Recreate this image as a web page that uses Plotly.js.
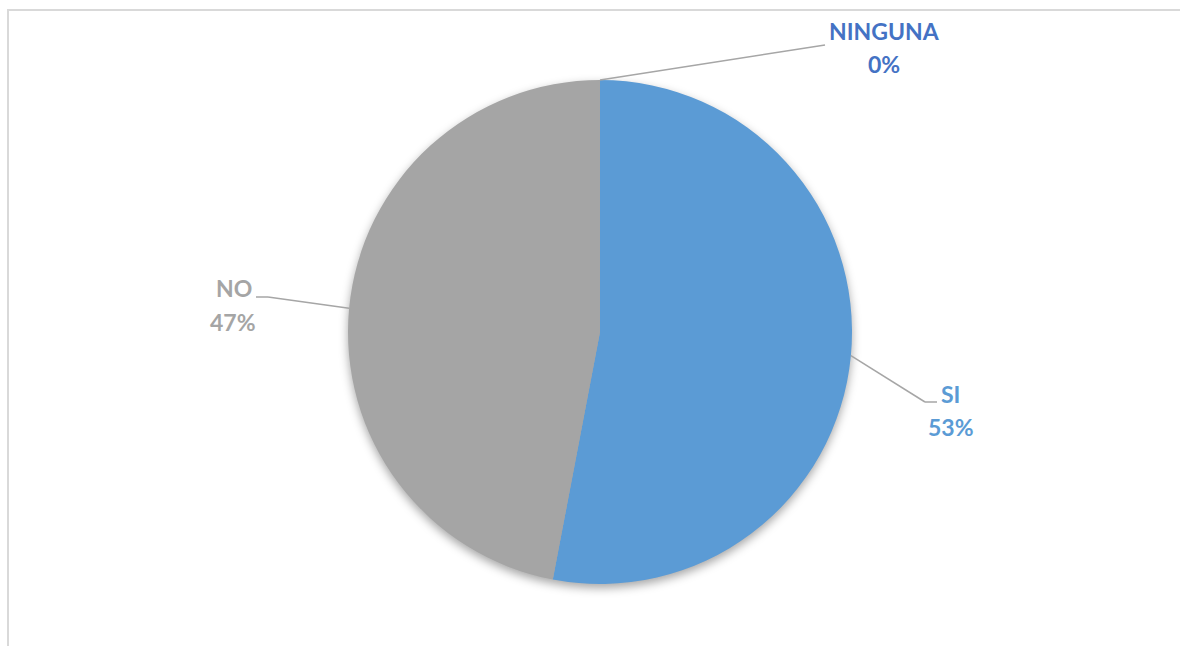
<!DOCTYPE html>
<html>
<head>
<meta charset="utf-8">
<script src="https://cdn.plot.ly/plotly-3.0.1.min.js"></script>
<style>
html,body{margin:0;padding:0;background:#fff;overflow:hidden;}
#chart{width:1180px;height:646px;}
#chart .pielayer{filter:drop-shadow(0px 4px 5px rgba(0,0,0,0.35));}
</style>
</head>
<body>
<div id="chart"></div>
<script>
// Data
const categories = ["SI", "NO", "NINGUNA"];
const values = [53, 47, 0];
const sliceColors = ["#5B9BD5", "#A5A5A5", "#4472C4"];
const labelColors = ["#5B9BD5", "#A5A5A5", "#4472C4"];

// Layout constants (pixels)
const W = 1180, H = 646;
const cx = 600, cy = 332, R = 252;
const px = x => x / W;
const py = y => 1 - y / H;

// label anchor layout: [name center, percent center, elbow point, elbow end]
const labelLayout = {
  "SI":      {name:[950,394], pct:[951,427], elbow:[925,402], end:[937,402]},
  "NO":      {name:[234,288], pct:[233,322], elbow:[268,297], end:[256,297]},
  "NINGUNA": {name:[884,31],  pct:[884,64],  elbow:[825,45],  end:[825,45]}
};

const total = values.reduce((a,b)=>a+b,0);
const annotations = [];
const shapes = [];

// border frame
shapes.push({type:"rect", xref:"paper", yref:"paper",
  x0:px(8), x1:1.02, y0:-0.02, y1:py(10),
  line:{color:"#D9D9D9", width:2}, fillcolor:"rgba(0,0,0,0)", layer:"below"});

let cum = 0;
categories.forEach((c,i)=>{
  const frac = values[i]/total;
  const mid = (cum + frac/2) * 2*Math.PI;
  cum += frac;
  const sx = cx + R*Math.sin(mid);
  const sy = cy - R*Math.cos(mid);
  const L = labelLayout[c];
  const lineStyle = {color:"#A6A6A6", width:1.5};
  shapes.push({type:"line", xref:"paper", yref:"paper",
    x0:px(sx), y0:py(sy), x1:px(L.elbow[0]), y1:py(L.elbow[1]), line:lineStyle});
  if (L.end[0] !== L.elbow[0]) {
    shapes.push({type:"line", xref:"paper", yref:"paper",
      x0:px(L.elbow[0]), y0:py(L.elbow[1]), x1:px(L.end[0]), y1:py(L.end[1]), line:lineStyle});
  }
  const f = {family:"Lato, 'Open Sans', sans-serif", size:23, color:labelColors[i], weight:"bold"};
  annotations.push({xref:"paper", yref:"paper", x:px(L.name[0]), y:py(L.name[1]),
    text:"<b>"+c+"</b>", showarrow:false, xanchor:"center", yanchor:"middle", font:f});
  annotations.push({xref:"paper", yref:"paper", x:px(L.pct[0]), y:py(L.pct[1]),
    text:"<b>"+Math.round(frac*100)+"%</b>", showarrow:false, xanchor:"center", yanchor:"middle", font:f});
});

const trace = {
  type:"pie",
  labels:categories,
  values:values,
  sort:false,
  direction:"clockwise",
  rotation:0,
  textinfo:"none",
  hoverinfo:"label+percent",
  marker:{colors:sliceColors, line:{width:0}},
  domain:{x:[px(cx-R), px(cx+R)], y:[py(cy+R), py(cy-R)]},
  showlegend:false
};

const layout = {
  width:W, height:H,
  margin:{l:0,r:0,t:0,b:0},
  paper_bgcolor:"#ffffff",
  plot_bgcolor:"#ffffff",
  showlegend:false,
  shapes:shapes,
  annotations:annotations
};

Plotly.newPlot("chart", [trace], layout, {displayModeBar:false, staticPlot:true});
</script>
</body>
</html>
